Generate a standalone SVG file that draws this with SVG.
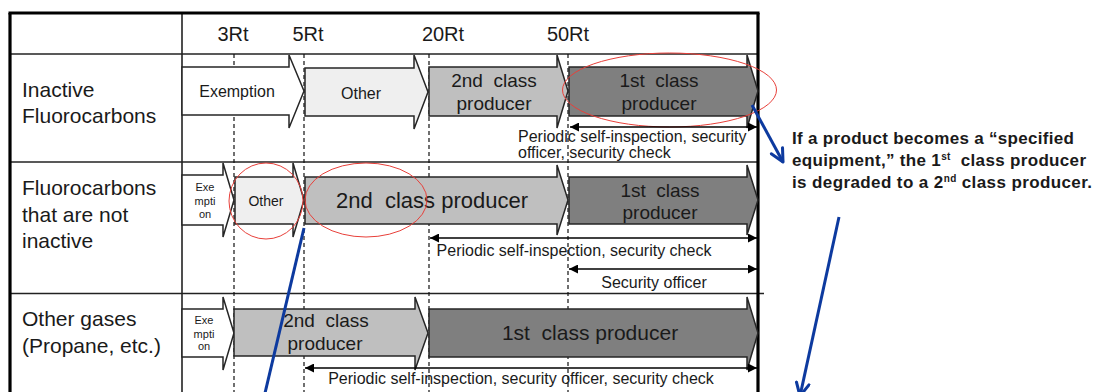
<svg xmlns="http://www.w3.org/2000/svg" width="1104" height="392" viewBox="0 0 1104 392">
<style>
text{font-family:"Liberation Sans",Arial,sans-serif;fill:#1a1a1a;white-space:pre}
.hdr{font-size:20px;text-anchor:middle}
.lbl{font-size:21px}
.arr{stroke:#262626;stroke-width:1.5;stroke-linejoin:miter}
.w{fill:#fff}.l{fill:#efefef}.m{fill:#bfbfbf}.d{fill:#7f7f7f}
.t16{font-size:16px;text-anchor:middle}
.t19{font-size:19px;text-anchor:middle}
.t21{font-size:21px;text-anchor:middle}
.t11{font-size:11px;text-anchor:middle}
.note{font-size:16px}
.dash{stroke:#111;stroke-width:1.2;stroke-dasharray:4 3;fill:none}
.grid{stroke:#222;stroke-width:1.6;fill:none}
.thick{stroke:#000;stroke-width:3.2;fill:none}
.dbl{stroke:#000;stroke-width:1.6;fill:none;marker-start:url(#ah);marker-end:url(#ah)}
.ell{fill:none;stroke:#e8403a;stroke-width:1}
.blue{stroke:#0d3a9f;stroke-width:3;fill:none;marker-end:url(#vb)}
.rn{font-size:17px;font-weight:bold}
</style>
<defs>
<marker id="ah" viewBox="0 0 10 10" refX="10" refY="5" markerWidth="9" markerHeight="9" markerUnits="userSpaceOnUse" orient="auto-start-reverse">
<path d="M0,0 L10,5 L0,10 Z" fill="#000"/>
</marker>
<marker id="vb" viewBox="0 0 10 10" refX="9" refY="5" markerWidth="16" markerHeight="16" markerUnits="userSpaceOnUse" orient="auto">
<path d="M1,1 L9,5 L1,9" fill="none" stroke="#0d3a9f" stroke-width="1.9" stroke-linecap="round" stroke-linejoin="round"/>
</marker>
</defs>
<rect width="1104" height="392" fill="#fff"/>

<g id="table">
<line class="grid" x1="10" y1="54" x2="758" y2="54"/>
<line class="grid" x1="10" y1="162" x2="758" y2="162"/>
<line class="grid" x1="10" y1="293.5" x2="764" y2="293.5"/>
<line class="grid" x1="182" y1="13" x2="182" y2="392"/>
<line class="thick" x1="8.5" y1="13" x2="759.5" y2="13"/>
<line class="thick" x1="10" y1="13" x2="10" y2="392"/>
<line class="thick" x1="758" y1="13" x2="758" y2="392"/>
<line class="dash" x1="234" y1="54" x2="234" y2="392"/>
<line class="dash" x1="304" y1="54" x2="304" y2="392"/>
<line class="dash" x1="429" y1="54" x2="429" y2="392"/>
<line class="dash" x1="568" y1="54" x2="568" y2="392"/>
</g>

<g id="headers">
<text class="hdr" x="233" y="41">3Rt</text>
<text class="hdr" x="308" y="41">5Rt</text>
<text class="hdr" x="443" y="41">20Rt</text>
<text class="hdr" x="568" y="41">50Rt</text>
</g>

<g id="row-labels">
<text class="lbl" x="22" y="97">Inactive</text>
<text class="lbl" x="22" y="123">Fluorocarbons</text>
<text class="lbl" x="22" y="195">Fluorocarbons</text>
<text class="lbl" x="22" y="222">that are not</text>
<text class="lbl" x="22" y="248">inactive</text>
<text class="lbl" x="22" y="326">Other gases</text>
<text class="lbl" x="22" y="353">(Propane, etc.)</text>
</g>

<g id="r1-exemption">
<path class="arr w" d="M182,67 H289 V55 L304,91 L289,128 V115 H182 Z"/>
<text class="t16" x="237" y="97">Exemption</text>
</g>
<g id="r1-other">
<path class="arr l" d="M305,68 H414 V55 L428,92 L414,129 V116 H305 Z"/>
<text class="t16" x="361" y="99">Other</text>
</g>
<g id="r1-2nd">
<path class="arr m" d="M429,67 H557 V55 L568,91 L557,128 V116 H429 Z"/>
<text class="t19" x="494" y="87">2nd  class</text>
<text class="t19" x="494" y="110">producer</text>
</g>
<g id="r1-1st">
<path class="arr d" d="M569,67 H747 V55 L758,91 L747,128 V116 H569 Z"/>
<text class="t19" x="659" y="87">1st  class</text>
<text class="t19" x="659" y="110">producer</text>
</g>

<g id="r2-exemption">
<path class="arr w" d="M182,175 H223 V163 L234,200 L223,237 V225 H182 Z"/>
<text class="t11" x="205" y="191">Exe</text>
<text class="t11" x="205" y="205">mpti</text>
<text class="t11" x="205" y="218">on</text>
</g>
<g id="r2-other">
<path class="arr l" d="M235,177 H293 V163 L304,200 L293,237 V224 H235 Z"/>
<text class="t16" x="266" y="206" style="font-size:14px">Other</text>
</g>
<g id="r2-2nd">
<path class="arr m" d="M305,177 H557 V165 L568,200 L557,235 V224 H305 Z"/>
<text class="t21" x="432" y="208" style="font-size:22px">2nd  class producer</text>
</g>
<g id="r2-1st">
<path class="arr d" d="M569,177 H747 V165 L758,200 L747,235 V224 H569 Z"/>
<text class="t19" x="660" y="197">1st  class</text>
<text class="t19" x="660" y="219">producer</text>
</g>

<g id="r3-exemption">
<path class="arr w" d="M182,309 H223 V297 L234,333 L223,370 V357 H182 Z"/>
<text class="t11" x="204" y="324">Exe</text>
<text class="t11" x="204" y="338">mpti</text>
<text class="t11" x="204" y="350">on</text>
</g>
<g id="r3-2nd">
<path class="arr m" d="M234,309 H415 V297 L428,333 L415,370 V356 H234 Z"/>
<text class="t19" x="326" y="327">2nd  class</text>
<text class="t19" x="325" y="350">producer</text>
</g>
<g id="r3-1st">
<path class="arr d" d="M429,309 H747 V297 L758,333 L747,370 V357 H429 Z"/>
<text class="t21" x="590" y="340">1st  class producer</text>
</g>

<g id="highlights">
<ellipse class="ell" cx="669.5" cy="90" rx="107" ry="37"/>
<ellipse class="ell" cx="266" cy="201" rx="37" ry="38"/>
<ellipse class="ell" cx="366" cy="200" rx="61" ry="37"/>
</g>

<g id="duty-labels">
<text x="518" y="142" style="font-size:16px">Periodic self-inspection, security</text>
<text x="518" y="158" style="font-size:16px">officer, security check</text>
<text x="574" y="256" style="font-size:16px;text-anchor:middle">Periodic self-inspection, security check</text>
<text x="654" y="288" style="font-size:16px;text-anchor:middle">Security officer</text>
<text x="521" y="384" style="font-size:16px;text-anchor:middle">Periodic self-inspection, security officer, security check</text>
</g>

<g id="note">
<text class="rn" x="792" y="144" textLength="282">If a product becomes a “specified</text>
<text class="rn" x="792" y="166" textLength="294">equipment,” the 1<tspan style="font-size:10px" dy="-6">st</tspan><tspan dy="6">  class producer</tspan></text>
<text class="rn" x="792" y="188" textLength="300">is degraded to a 2<tspan style="font-size:10px" dy="-6">nd</tspan><tspan dy="6"> class producer.</tspan></text>
</g>

<g id="connectors">
<line class="dbl" x1="570" y1="127" x2="757" y2="127"/>
<line class="dbl" x1="430" y1="238" x2="757" y2="238"/>
<line class="dbl" x1="569" y1="269" x2="757" y2="269"/>
<line class="dbl" x1="305" y1="368" x2="757" y2="368"/>
<line class="blue" x1="752" y1="105" x2="783" y2="162"/>
<line class="blue" x1="839" y1="217" x2="800" y2="396"/>
<line class="blue" x1="304" y1="228" x2="261" y2="410"/>
</g>
</svg>
